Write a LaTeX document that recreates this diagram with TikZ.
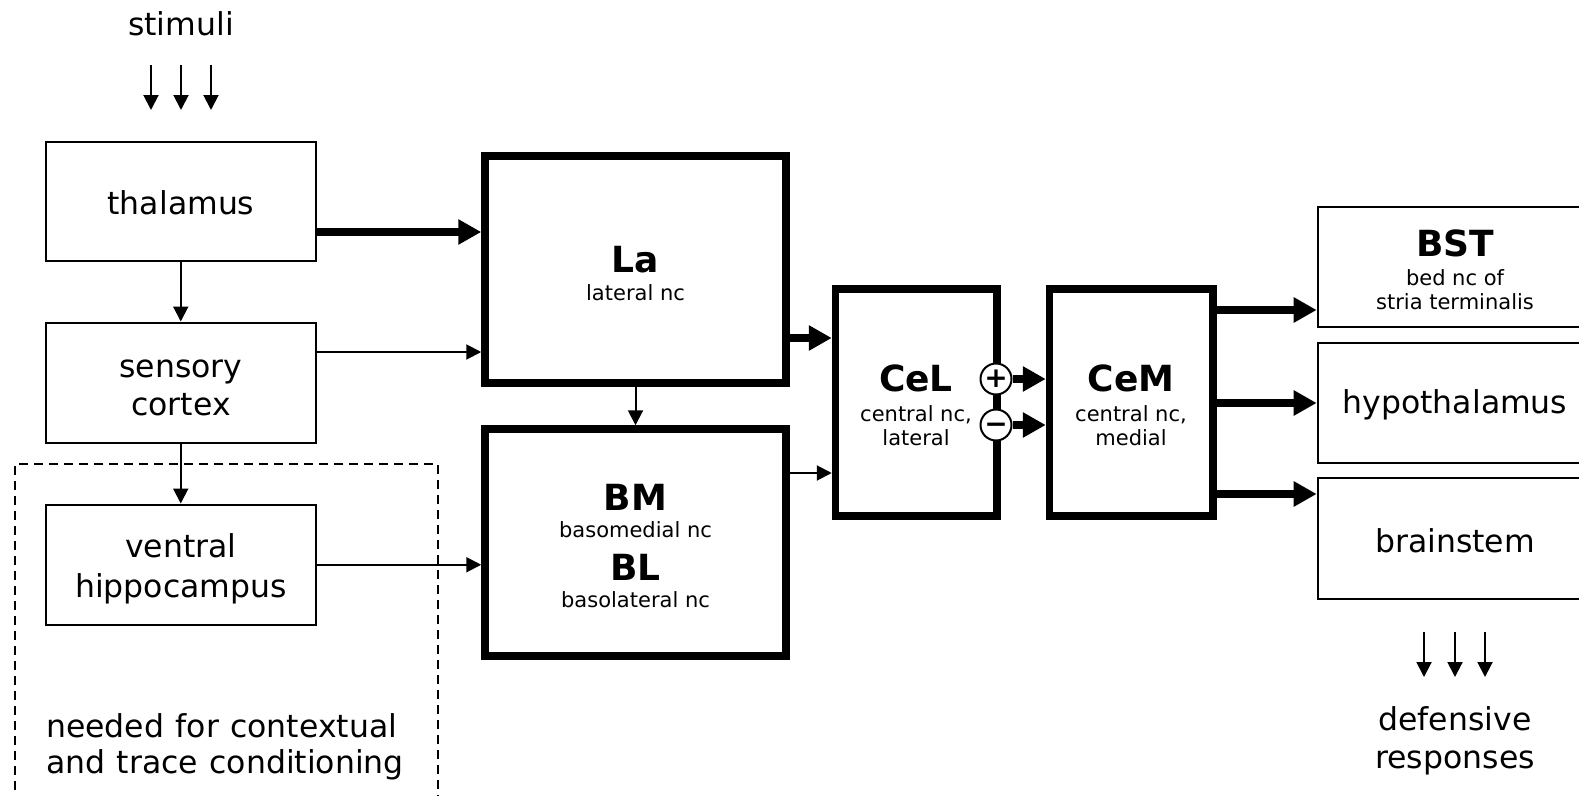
\documentclass[tikz,border=0pt]{standalone}
\usepackage{fontspec}
\setmainfont{DejaVu Sans}
\usetikzlibrary{arrows.meta}
\begin{document}
\begin{tikzpicture}[x=1pt,y=-1pt,
  thinbox/.style={draw, line width=2pt, inner sep=0pt, fill=white},
  thickbox/.style={draw, line width=7.5pt, inner sep=0pt, fill=white},
  lab/.style={font=\fontsize{31.5}{31.5}\selectfont, anchor=base, inner sep=0pt},
  big/.style={font=\bfseries\fontsize{36}{36}\selectfont, anchor=base, inner sep=0pt},
  small/.style={font=\fontsize{21}{21}\selectfont, anchor=base, inner sep=0pt},
  thinarr/.style={line width=2pt, -{Triangle[length=15pt,width=15pt]}},
  thickarr/.style={line width=7.5pt, -{Triangle[length=23pt,width=24pt]}},
  sign/.style={circle, draw, line width=2pt, fill=white, minimum size=31pt, inner sep=0pt, font=\bfseries\fontsize{28}{28}\selectfont},
  ctxbox/.style={draw, line width=2pt, dash pattern=on 9pt off 6pt, inner sep=0pt}
]
\useasboundingbox (0,0) rectangle (1579,795);

% dashed context region
\node[ctxbox, minimum width=423pt, minimum height=352pt] (ctx) at (226.5,640) {};

% boxes
\node[thinbox, minimum width=269.5pt, minimum height=119pt] (thal) at (180.75,201) {};
\node[thinbox, minimum width=269.5pt, minimum height=120pt] (sens) at (180.75,382.5) {};
\node[thinbox, minimum width=269.5pt, minimum height=120.5pt] (vent) at (180.75,564.75) {};
\node[thickbox, minimum width=301pt, minimum height=227pt] (La) at (635.5,269.5) {};
\node[thickbox, minimum width=301pt, minimum height=227pt] (BM) at (635.5,542.5) {};
\node[thickbox, minimum width=161.5pt, minimum height=227pt] (CeL) at (916.25,402.5) {};
\node[thickbox, minimum width=163.5pt, minimum height=227pt] (CeM) at (1131.25,402.5) {};
\node[thinbox, minimum width=274.6pt, minimum height=120pt] (BST) at (1455,266.7) {};
\node[thinbox, minimum width=274.6pt, minimum height=120.6pt] (hyp) at (1455,403) {};
\node[thinbox, minimum width=274.6pt, minimum height=120.4pt] (brain) at (1455,538.5) {};

% texts
\node[lab] (tstim) at (181,35) {stimuli};
\node[lab] (tthal) at (181,214) {thalamus};
\node[lab] (tsens1) at (181,377) {sensory};
\node[lab] (tsens2) at (181,415) {cortex};
\node[lab] (tvent1) at (181,557) {ventral};
\node[lab] (tvent2) at (181,597) {hippocampus};
\node[lab, anchor=base west] (tctx1) at (46,737) {\spaceskip=0.36em needed for contextual};
\node[lab, anchor=base west] (tctx2) at (46,773) {\spaceskip=0.36em and trace conditioning};
\node[big] (tLa) at (635.5,272) {La};
\node[small] (tLa2) at (635.5,300) {lateral nc};
\node[big] (tBM) at (635.5,510) {BM};
\node[small] (tBM2) at (635.5,537) {basomedial nc};
\node[big] (tBL) at (635.5,580) {BL};
\node[small] (tBL2) at (635.5,607) {basolateral nc};
\node[big] (tCeL) at (916,391) {CeL};
\node[small] (tCeL2) at (916,421) {central nc,};
\node[small] (tCeL3) at (916,445) {lateral};
\node[big] (tCeM) at (1131,391) {CeM};
\node[small] (tCeM2) at (1131,421) {central nc,};
\node[small] (tCeM3) at (1131,445) {medial};
\node[big] (tBST) at (1455,256) {BST};
\node[small] (tBST2) at (1455,285) {bed nc of};
\node[small] (tBST3) at (1455,309) {stria terminalis};
\node[lab] (thyp) at (1455,413) {hypothalamus};
\node[lab] (tbrain) at (1455,552) {brainstem};
\node[lab] (tdef1) at (1455,730) {defensive};
\node[lab] (tdef2) at (1455,768) {responses};

% stimuli arrows
\coordinate (s1) at (151,65); \coordinate (s2) at (181,65); \coordinate (s3) at (211,65);
\foreach \c in {s1,s2,s3} \draw[thinarr] (\c) -- ++(0,45);

% left column
\draw[thinarr] (thal.south) -- (sens.north);
\draw[thinarr] (sens.south) -- (vent.north);
\draw[thickarr] (thal.east |- 0,232) -- (La.west |- 0,232);
\draw[thinarr] (sens.east |- 0,352) -- (La.west |- 0,352);
\draw[thinarr] (vent.east) -- (vent.east -| BM.west);

% amygdala
\draw[thinarr] (La.south) -- (BM.north);
\draw[thickarr] (La.east |- 0,338) -- (CeL.west |- 0,338);
\draw[thinarr] (BM.east |- 0,473) -- (CeL.west |- 0,473);

\node[sign] (plus) at (996,379) {\makebox[0pt]{+}};
\node[sign] (minus) at (996,425) {\makebox[0pt]{\vphantom{+}−}};
\draw[thickarr] (plus.east) -- (plus.east -| CeM.west);
\draw[thickarr] (minus.east) -- (minus.east -| CeM.west);

% outputs
\draw[thickarr] (CeM.east |- 0,310) -- (BST.west |- 0,310);
\draw[thickarr] (CeM.east |- 0,403) -- (hyp.west |- 0,403);
\draw[thickarr] (CeM.east |- 0,494) -- (brain.west |- 0,494);

% defensive arrows
\coordinate (d1) at (1424,632); \coordinate (d2) at (1455,632); \coordinate (d3) at (1485,632);
\foreach \c in {d1,d2,d3} \draw[thinarr] (\c) -- ++(0,45);
\end{tikzpicture}
\end{document}
